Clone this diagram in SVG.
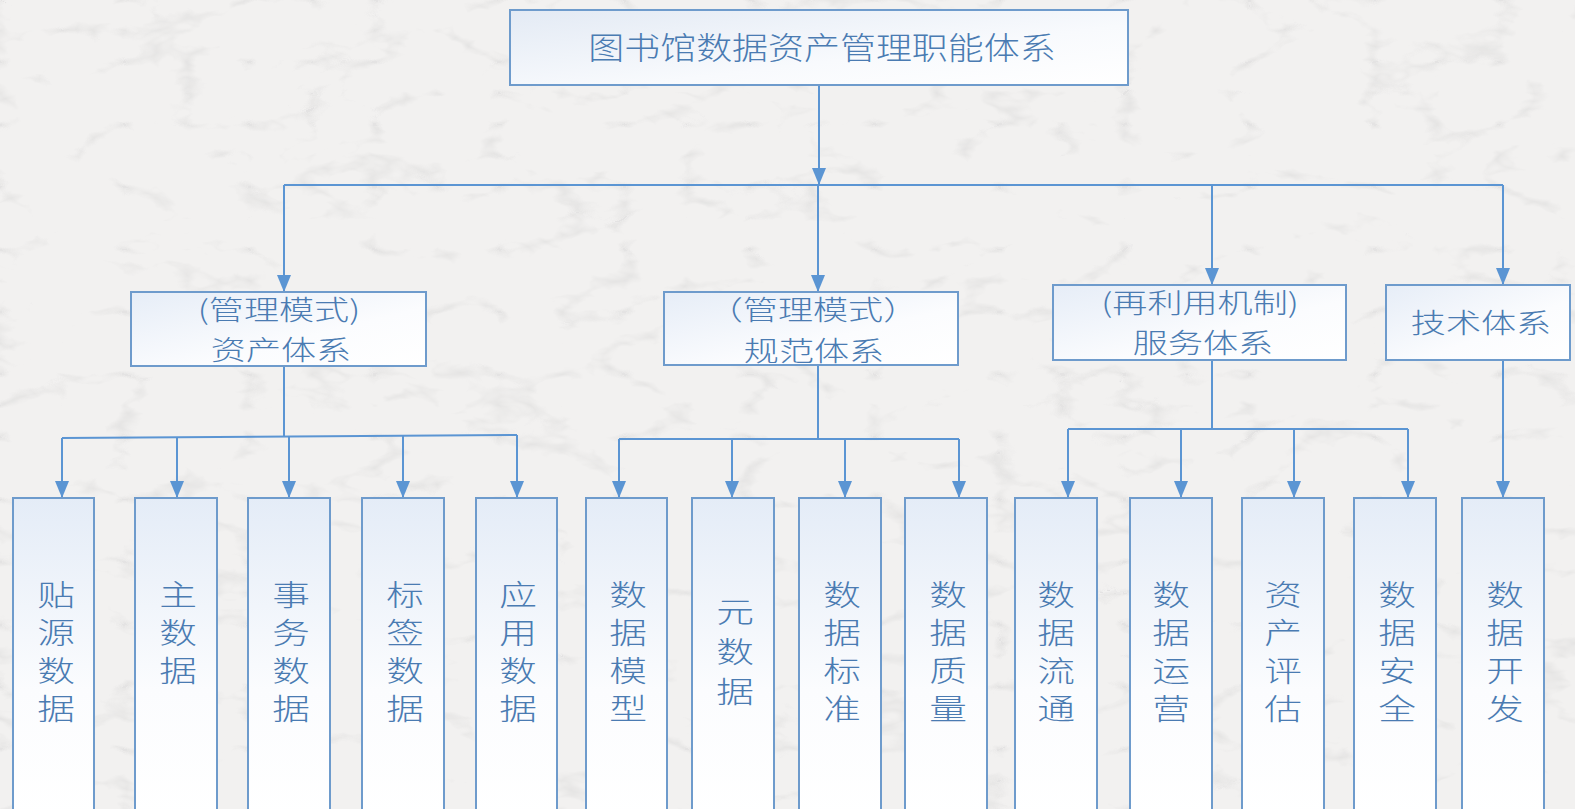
<svg xmlns="http://www.w3.org/2000/svg" width="1575" height="809" viewBox="0 0 1575 809">
<defs>
<style>
.box{stroke:#6e9bcc;stroke-width:2;}
.top{fill:url(#gTop);}
.mid{fill:url(#gMid);}
.leaf{fill:url(#gLeaf);}
.t{font-family:"Noto Sans CJK SC","Noto Sans",sans-serif;fill:#4a7bb2;font-weight:300;text-anchor:middle;}
.conn{stroke:#5b95d3;stroke-width:2;fill:none;}
.arr{marker-end:url(#ah);}
</style>
<linearGradient id="gTop" x1="0" y1="0" x2="1" y2="1">
<stop offset="0" stop-color="#e3eaf4"/>
<stop offset="0.6" stop-color="#f8fafd"/>
<stop offset="1" stop-color="#ffffff"/>
</linearGradient>
<linearGradient id="gMid" x1="0" y1="0" x2="1" y2="1">
<stop offset="0" stop-color="#e6edf7"/>
<stop offset="0.6" stop-color="#fbfcfe"/>
<stop offset="1" stop-color="#ffffff"/>
</linearGradient>
<linearGradient id="gLeaf" x1="0" y1="0" x2="0" y2="1">
<stop offset="0" stop-color="#e4ecf7"/>
<stop offset="0.6" stop-color="#fbfcfe"/>
<stop offset="1" stop-color="#ffffff"/>
</linearGradient>
<marker id="ah" viewBox="0 0 17 14" refX="17" refY="7" markerWidth="17" markerHeight="14" markerUnits="userSpaceOnUse" orient="auto">
<path d="M0,0 L17,7 L0,14 z" fill="#5b95d3"/>
</marker>
<filter id="paper" x="0" y="0" width="100%" height="100%">
<feTurbulence type="turbulence" baseFrequency="0.008 0.016" numOctaves="4" seed="7"/>
<feColorMatrix type="matrix" values="0 0 0 0 0.55  0 0 0 0 0.55  0 0 0 0 0.55  -1.6 0 0 0 0.3"/>
</filter>
</defs>
<rect width="1575" height="809" fill="#f2f1f0"/>
<rect width="1575" height="809" filter="url(#paper)"/>

<g id="connectors">
<path class="conn arr" d="M819,85 V185"/>
<path class="conn" d="M284,185 H1503"/>
<path class="conn arr" d="M284,185 V292"/>
<path class="conn arr" d="M818,185 V292"/>
<path class="conn arr" d="M1212,185 V285"/>
<path class="conn arr" d="M1503,185 V285"/>

<path class="conn" d="M284,366 V436"/>
<path class="conn" d="M62,438 L517,435"/>
<path class="conn arr" d="M62,438 V498"/>
<path class="conn arr" d="M177,437 V498"/>
<path class="conn arr" d="M289,436.5 V498"/>
<path class="conn arr" d="M403,436 V498"/>
<path class="conn arr" d="M517,435 V498"/>

<path class="conn" d="M818,365 V439"/>
<path class="conn" d="M619,439 H959"/>
<path class="conn arr" d="M619,439 V498"/>
<path class="conn arr" d="M732,439 V498"/>
<path class="conn arr" d="M845,439 V498"/>
<path class="conn arr" d="M959,439 V498"/>

<path class="conn" d="M1212,360 V429"/>
<path class="conn" d="M1068,429 H1408"/>
<path class="conn arr" d="M1068,429 V498"/>
<path class="conn arr" d="M1181,429 V498"/>
<path class="conn arr" d="M1294,429 V498"/>
<path class="conn arr" d="M1408,429 V498"/>

<path class="conn arr" d="M1503,360 V498"/>
</g>

<g id="root">
<rect class="box top" x="510" y="10" width="618" height="75"/>
<text class="t" font-size="31" transform="translate(822,59) scale(1.16,1)">图书馆数据资产管理职能体系</text>
</g>

<g id="asset">
<rect class="box mid" x="131" y="292" width="295" height="74"/>
<text class="t" font-size="27" transform="translate(279,320) scale(1.3,1)">(管理模式)</text>
<text class="t" font-size="27" transform="translate(281,360) scale(1.3,1)">资产体系</text>
</g>
<g id="norm">
<rect class="box mid" x="664" y="292" width="294" height="73"/>
<text class="t" font-size="27" transform="translate(813,320) scale(1.3,1)">（管理模式）</text>
<text class="t" font-size="27" transform="translate(814,361) scale(1.3,1)">规范体系</text>
</g>
<g id="service">
<rect class="box mid" x="1053" y="285" width="293" height="75"/>
<text class="t" font-size="27" transform="translate(1200,313) scale(1.3,1)">(再利用机制)</text>
<text class="t" font-size="27" transform="translate(1203,353) scale(1.3,1)">服务体系</text>
</g>
<g id="tech">
<rect class="box mid" x="1386" y="285" width="184" height="75"/>
<text class="t" font-size="27" transform="translate(1481,333) scale(1.3,1)">技术体系</text>
</g>

<g id="leaf1"><rect class="box leaf" x="13" y="498" width="81" height="320"/>
<text class="t" font-size="29" transform="translate(56,606) scale(1.3,1)"><tspan x="0" y="0">贴</tspan><tspan x="0" y="38">源</tspan><tspan x="0" y="76">数</tspan><tspan x="0" y="114">据</tspan></text></g>
<g id="leaf2"><rect class="box leaf" x="135" y="498" width="82" height="320"/>
<text class="t" font-size="29" transform="translate(178,606) scale(1.3,1)"><tspan x="0" y="0">主</tspan><tspan x="0" y="38">数</tspan><tspan x="0" y="76">据</tspan></text></g>
<g id="leaf3"><rect class="box leaf" x="248" y="498" width="82" height="320"/>
<text class="t" font-size="29" transform="translate(291,606) scale(1.3,1)"><tspan x="0" y="0">事</tspan><tspan x="0" y="38">务</tspan><tspan x="0" y="76">数</tspan><tspan x="0" y="114">据</tspan></text></g>
<g id="leaf4"><rect class="box leaf" x="362" y="498" width="82" height="320"/>
<text class="t" font-size="29" transform="translate(405,606) scale(1.3,1)"><tspan x="0" y="0">标</tspan><tspan x="0" y="38">签</tspan><tspan x="0" y="76">数</tspan><tspan x="0" y="114">据</tspan></text></g>
<g id="leaf5"><rect class="box leaf" x="476" y="498" width="81" height="320"/>
<text class="t" font-size="29" transform="translate(518,606) scale(1.3,1)"><tspan x="0" y="0">应</tspan><tspan x="0" y="38">用</tspan><tspan x="0" y="76">数</tspan><tspan x="0" y="114">据</tspan></text></g>
<g id="leaf6"><rect class="box leaf" x="586" y="498" width="81" height="320"/>
<text class="t" font-size="29" transform="translate(628,606) scale(1.3,1)"><tspan x="0" y="0">数</tspan><tspan x="0" y="38">据</tspan><tspan x="0" y="76">模</tspan><tspan x="0" y="114">型</tspan></text></g>
<g id="leaf7"><rect class="box leaf" x="692" y="498" width="82" height="320"/>
<text class="t" font-size="29" transform="translate(735,623) scale(1.3,1)"><tspan x="0" y="0">元</tspan><tspan x="0" y="40">数</tspan><tspan x="0" y="80">据</tspan></text></g>
<g id="leaf8"><rect class="box leaf" x="799" y="498" width="82" height="320"/>
<text class="t" font-size="29" transform="translate(842,606) scale(1.3,1)"><tspan x="0" y="0">数</tspan><tspan x="0" y="38">据</tspan><tspan x="0" y="76">标</tspan><tspan x="0" y="114">准</tspan></text></g>
<g id="leaf9"><rect class="box leaf" x="905" y="498" width="82" height="320"/>
<text class="t" font-size="29" transform="translate(948,606) scale(1.3,1)"><tspan x="0" y="0">数</tspan><tspan x="0" y="38">据</tspan><tspan x="0" y="76">质</tspan><tspan x="0" y="114">量</tspan></text></g>
<g id="leaf10"><rect class="box leaf" x="1015" y="498" width="82" height="320"/>
<text class="t" font-size="29" transform="translate(1056,606) scale(1.3,1)"><tspan x="0" y="0">数</tspan><tspan x="0" y="38">据</tspan><tspan x="0" y="76">流</tspan><tspan x="0" y="114">通</tspan></text></g>
<g id="leaf11"><rect class="box leaf" x="1130" y="498" width="82" height="320"/>
<text class="t" font-size="29" transform="translate(1171,606) scale(1.3,1)"><tspan x="0" y="0">数</tspan><tspan x="0" y="38">据</tspan><tspan x="0" y="76">运</tspan><tspan x="0" y="114">营</tspan></text></g>
<g id="leaf12"><rect class="box leaf" x="1242" y="498" width="82" height="320"/>
<text class="t" font-size="29" transform="translate(1283,606) scale(1.3,1)"><tspan x="0" y="0">资</tspan><tspan x="0" y="38">产</tspan><tspan x="0" y="76">评</tspan><tspan x="0" y="114">估</tspan></text></g>
<g id="leaf13"><rect class="box leaf" x="1354" y="498" width="82" height="320"/>
<text class="t" font-size="29" transform="translate(1397,606) scale(1.3,1)"><tspan x="0" y="0">数</tspan><tspan x="0" y="38">据</tspan><tspan x="0" y="76">安</tspan><tspan x="0" y="114">全</tspan></text></g>
<g id="leaf14"><rect class="box leaf" x="1462" y="498" width="82" height="320"/>
<text class="t" font-size="29" transform="translate(1505,606) scale(1.3,1)"><tspan x="0" y="0">数</tspan><tspan x="0" y="38">据</tspan><tspan x="0" y="76">开</tspan><tspan x="0" y="114">发</tspan></text></g>
</svg>
